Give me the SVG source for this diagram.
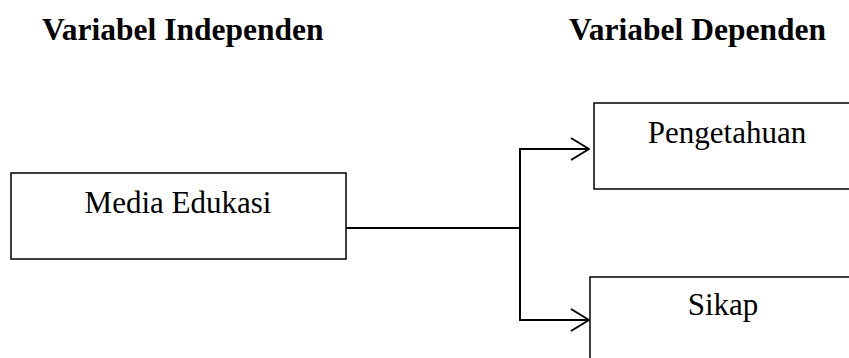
<svg xmlns="http://www.w3.org/2000/svg" width="849" height="358" viewBox="0 0 849 358">
  <defs>
    <style>
      .title { font-family: "Liberation Serif", "Times New Roman", serif; font-weight: bold; font-size: 31.5px; fill: #000; }
      .label { font-family: "Liberation Serif", "Times New Roman", serif; font-size: 31px; fill: #000; }
      .box { fill: #fff; stroke: #000; stroke-width: 1.5; }
      .wire { fill: none; stroke: #000; stroke-width: 2; }
    </style>
    <marker id="open-arrow" viewBox="0 0 20 24" refX="19" refY="12" markerWidth="20" markerHeight="24" markerUnits="userSpaceOnUse" orient="auto">
      <path d="M1,1 L19,12 L1,23" fill="none" stroke="#000" stroke-width="2"/>
    </marker>
  </defs>

  <rect width="849" height="358" fill="#fff"/>

  <g id="headings">
    <text class="title" x="42" y="40">Variabel Independen</text>
    <text class="title" x="569" y="40">Variabel Dependen</text>
  </g>

  <g id="media-edukasi">
    <rect class="box" x="11" y="173" width="335" height="86"/>
    <text class="label" x="178" y="213" text-anchor="middle">Media Edukasi</text>
  </g>

  <g id="pengetahuan">
    <rect class="box" x="594" y="103" width="270" height="86"/>
    <text class="label" x="727" y="143" text-anchor="middle">Pengetahuan</text>
  </g>

  <g id="sikap">
    <rect class="box" x="590" y="277" width="280" height="100"/>
    <text class="label" x="723" y="315" text-anchor="middle">Sikap</text>
  </g>

  <g id="connectors">
    <line class="wire" x1="346" y1="228" x2="521" y2="228"/>
    <line class="wire" x1="520" y1="148" x2="520" y2="321"/>
    <path class="wire" d="M519,149 L589,149" marker-end="url(#open-arrow)"/>
    <path class="wire" d="M519,320 L589,320" marker-end="url(#open-arrow)"/>
  </g>
</svg>
